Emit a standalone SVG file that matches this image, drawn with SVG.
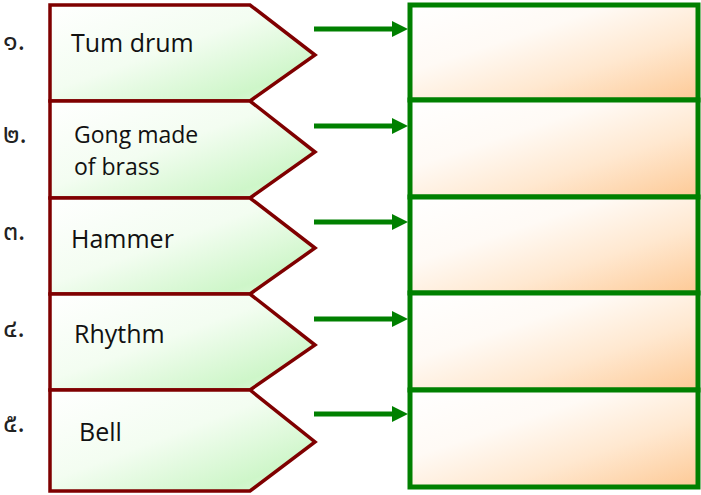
<svg xmlns="http://www.w3.org/2000/svg" width="701" height="495" viewBox="0 0 701 495">
<defs>
<linearGradient id="gG" x1="0" y1="0" x2="1" y2="1">
<stop offset="0" stop-color="#ffffff"/>
<stop offset="0.45" stop-color="#f3fdf1"/>
<stop offset="0.82" stop-color="#cef6c9"/>
<stop offset="1" stop-color="#e2f9de"/>
</linearGradient>
<linearGradient id="gO" x1="0" y1="0" x2="1" y2="1">
<stop offset="0" stop-color="#ffffff"/>
<stop offset="0.35" stop-color="#fffaf5"/>
<stop offset="0.65" stop-color="#ffe8d0"/>
<stop offset="1" stop-color="#fdc995"/>
</linearGradient>
<marker id="ah" viewBox="0 0 10 10" refX="0" refY="5" markerWidth="3.2" markerHeight="3.4" markerUnits="strokeWidth" orient="auto">
<path d="M0,0 L10,5 L0,10 Z" fill="#008000"/>
</marker>
<style>
.pent{fill:url(#gG);stroke:#7f0000;stroke-width:3.5;stroke-linejoin:miter}
.box{fill:url(#gO);stroke:#008000;stroke-width:5}
.lbl{font-family:"Open Sans","Liberation Sans",sans-serif;font-size:25px;fill:#111}
.num{font-family:"Noto Sans Thai","Noto Sans","DejaVu Sans",sans-serif;font-size:27px;fill:#222}
.arr{stroke:#008000;stroke-width:5;fill:none}
</style>
</defs>
<g id="boxes">
<rect class="box" x="410" y="5" width="288" height="95"/>
<rect class="box" x="410" y="100" width="288" height="97"/>
<rect class="box" x="410" y="197" width="288" height="96"/>
<rect class="box" x="410" y="293" width="288" height="97"/>
<rect class="box" x="410" y="390" width="288" height="97"/>
</g>
<g id="node1">
<path class="pent" d="M50,5 H250 L315,55 L250,101 H50 Z"/>
<text class="num" x="3" y="50">๑.</text>
<text class="lbl" x="71" y="52">Tum drum</text>
</g>
<g id="node2">
<path class="pent" d="M50,101 H250 L315,152 L250,198 H50 Z"/>
<text class="num" x="3" y="143">๒.</text>
<text class="lbl" x="74" y="143" style="font-size:23px">Gong made</text>
<text class="lbl" x="74" y="175" style="font-size:23px">of brass</text>
</g>
<g id="node3">
<path class="pent" d="M50,198 H250 L315,248 L250,294 H50 Z"/>
<text class="num" x="3" y="240">๓.</text>
<text class="lbl" x="71" y="248">Hammer</text>
</g>
<g id="node4">
<path class="pent" d="M50,294 H250 L315,345 L250,390 H50 Z"/>
<text class="num" x="3" y="337">๔.</text>
<text class="lbl" x="74" y="343">Rhythm</text>
</g>
<g id="node5">
<path class="pent" d="M50,390 H250 L315,442 L250,491 H50 Z"/>
<text class="num" x="3" y="432">๕.</text>
<text class="lbl" x="79" y="441">Bell</text>
</g>
<g id="connectors">
<line class="arr" x1="314" y1="29" x2="392" y2="29" marker-end="url(#ah)"/>
<line class="arr" x1="314" y1="126" x2="392" y2="126" marker-end="url(#ah)"/>
<line class="arr" x1="314" y1="222" x2="392" y2="222" marker-end="url(#ah)"/>
<line class="arr" x1="314" y1="319" x2="392" y2="319" marker-end="url(#ah)"/>
<line class="arr" x1="314" y1="414" x2="392" y2="414" marker-end="url(#ah)"/>
</g>
</svg>
